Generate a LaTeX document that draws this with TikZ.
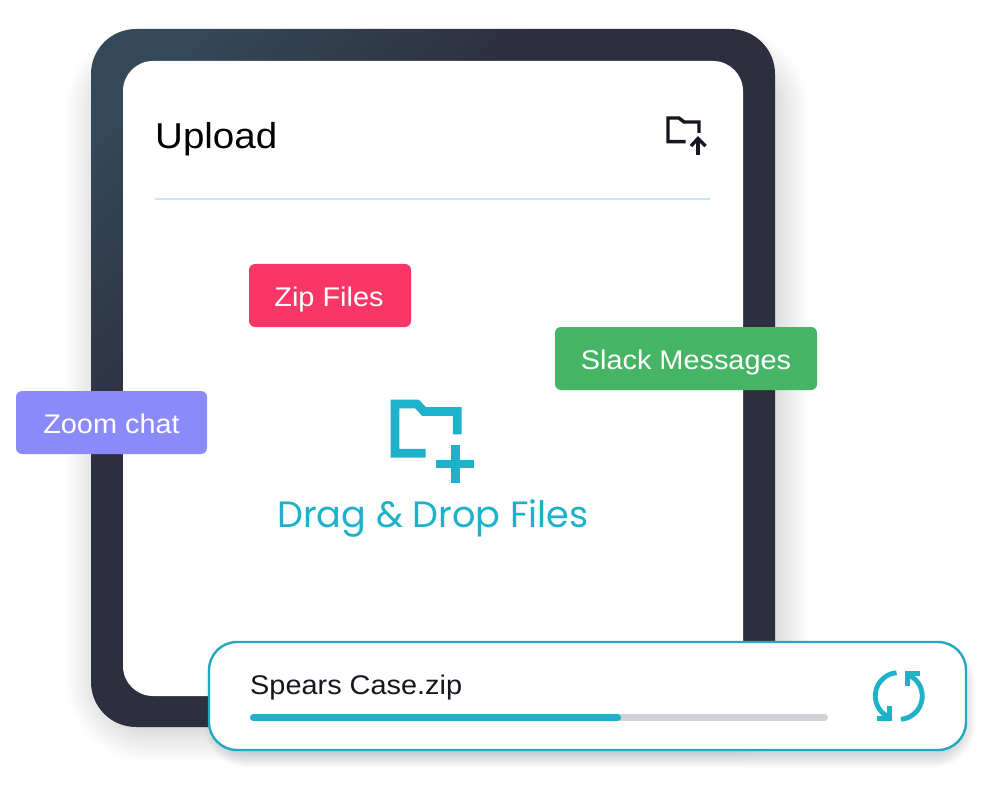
\documentclass[tikz,border=0pt]{standalone}
\usepackage{fontspec}
\setmainfont[FakeStretch=1.07]{Liberation Sans}
\newfontfamily\dropfont{Poppins}
\definecolor{framedark}{HTML}{2E2F3E}
\definecolor{framelight}{HTML}{33495A}
\definecolor{teal}{HTML}{1EB1CA}
\definecolor{barteal}{HTML}{22A9C0}
\definecolor{rulecol}{HTML}{BDEEF3}
\definecolor{inkcol}{HTML}{15161F}
\definecolor{trackcol}{HTML}{D1D2D8}
\definecolor{zipcol}{HTML}{F93767}
\definecolor{slackcol}{HTML}{45B565}
\definecolor{zoomcol}{HTML}{8A8AFB}
\definecolor{shadowcol}{HTML}{2A3A45}
\pgfdeclarehorizontalshading{framegrad}{100bp}{
  color(0bp)=(framelight); color(20bp)=(framelight); color(37bp)=(framedark); color(100bp)=(framedark)}
\tikzset{
  x=1pt,y=-1pt,
  tag/.style={inner sep=0pt,text=white,font=\fontsize{27}{27}\selectfont,anchor=base},
  iconsm/.style={draw=inkcol,line width=3.4pt,fill=none},
  iconlg/.style={draw=teal,line width=8.7pt,fill=none},
  iconsync/.style={draw=teal,line width=4.8pt,fill=none}
}
\newcommand{\softshadow}[7]{% x1 y1 x2 y2 radius spread opacity
  \foreach \s in {0,...,#6}{
    \fill[shadowcol,opacity=#7,rounded corners=#5+\s*1pt]
      (#1-\s,#2-\s) rectangle (#3+\s,#4+\s);
  }
}
\begin{document}
\begin{tikzpicture}
\useasboundingbox (0,0) rectangle (982,786);
\fill[white] (0,0) rectangle (982,786);
% frame shadow
\softshadow{110}{70}{765}{718}{40pt}{44}{0.002}
% frame
\shade[shading=framegrad,shading angle=-45,rounded corners=45pt] (91,29) rectangle (775,727);
\fill[white,rounded corners=30pt] (123,61) rectangle (743,696);
% header
\node[anchor=base west,inner sep=0pt,text=black,font=\fontsize{36}{36}\selectfont] (title) at (155,149) {Upload};
\draw[iconsm,line join=miter] (685.5,141.7) -- (668,141.7) -- (668,118) -- (679,118) -- (684,122) -- (699,122) -- (699,133);
\draw[iconsm] (698,155) -- (698,139);
\draw[iconsm,line join=miter] (691,146) -- (698,138.5) -- (705.5,146);
\draw[rulecol,line width=1.6pt] (155,199) -- (710,199);
% tags
\fill[zipcol,rounded corners=6pt] (249,264) rectangle (411,327);
\node[tag] (zip) at (329,306) {Zip Files};
\fill[slackcol,rounded corners=6pt] (555,327) rectangle (817,390);
\node[tag] (slack) at (686,369) {Slack Messages};
\fill[zoomcol,rounded corners=6pt] (16,391) rectangle (207,454);
\node[tag] (zoom) at (111.5,433) {Zoom chat};
% drop icon
\draw[iconlg,line join=miter] (425.7,453.3) -- (395,453.3) -- (395,404) -- (417,404) -- (424,411.5) -- (457.3,411.5) -- (457.3,434.3);
\draw[iconlg] (455.7,445.3) -- (455.7,482.7);
\draw[iconlg] (436.3,464) -- (474.3,464);
\node[anchor=base,inner sep=0pt,text=teal,font=\dropfont\fontsize{36.6}{36.6}\selectfont] (drop) at (433,527) {Drag \& Drop Files};
% upload bar
\softshadow{222}{660}{958}{750}{26pt}{18}{0.011}
\fill[white,draw=barteal,line width=2.4pt,rounded corners=28pt] (209,642) rectangle (966,750);
\node[anchor=base west,inner sep=0pt,text=inkcol,font=\fontsize{27}{27}\selectfont] (fname) at (250,694) {Spears Case.zip};
\draw[trackcol,line width=7pt,line cap=round] (253.5,717.5) -- (824.5,717.5);
\draw[teal,line width=7pt,line cap=round] (253.5,717.5) -- (617.5,717.5);
% sync icon
\draw[iconsync] (896.5,672.7) arc[start angle=-95,end angle=-225,radius=23.3] -- (889,718);
\draw[iconsync,line join=miter] (877,718.7) -- (892,718.7) -- (889.5,718.7) -- (889.5,706);
\draw[iconsync] (901,719.3) arc[start angle=85,end angle=-45,radius=23.3] -- (908,674);
\draw[iconsync,line join=miter] (920,673.3) -- (905,673.3) -- (907.5,673.3) -- (907.5,686);
\end{tikzpicture}
\end{document}
